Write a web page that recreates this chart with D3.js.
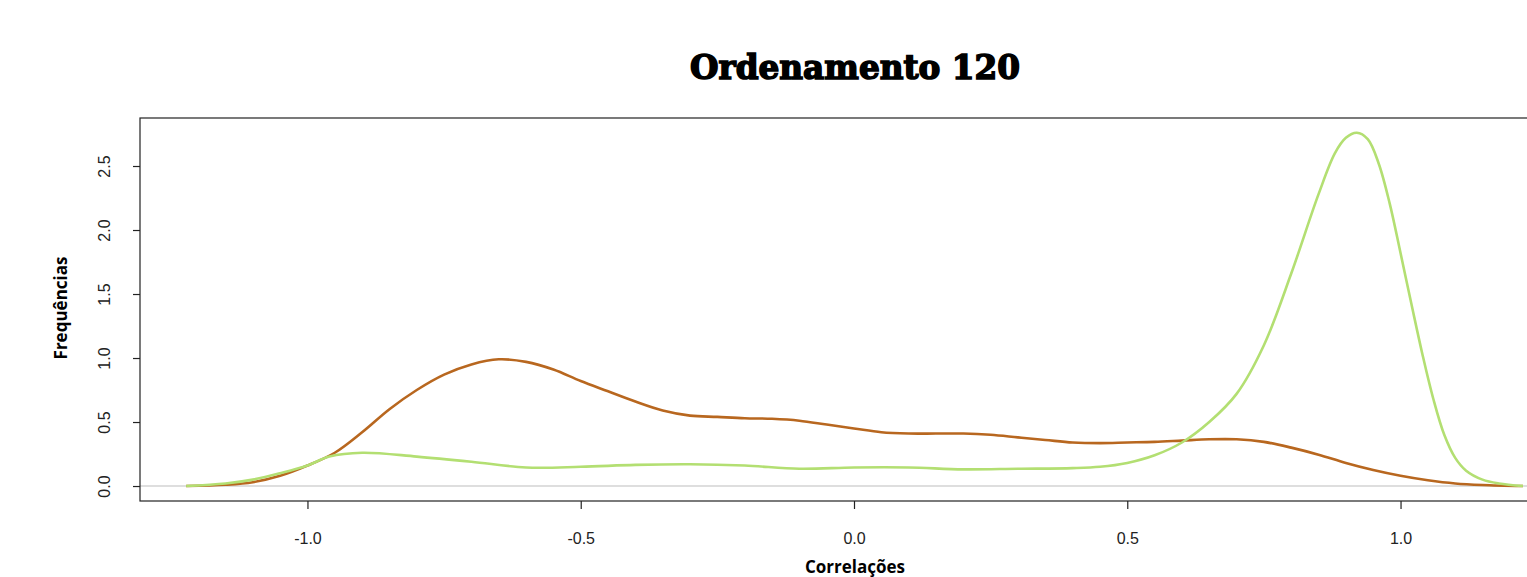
<!DOCTYPE html>
<html>
<head>
<meta charset="utf-8">
<script src="https://cdn.jsdelivr.net/npm/d3@7"></script>
<style>
  body { margin: 0; background: #fff; }
  svg { display: block; }
</style>
</head>
<body>
<div id="chart"></div>
<script>
// density estimates
let brownX = [-1.222, -1.15, -1.1, -1.05, -1.0, -0.95, -0.9, -0.85, -0.8, -0.75, -0.7, -0.65, -0.6, -0.55, -0.5, -0.45, -0.4, -0.35, -0.3, -0.25, -0.2, -0.15, -0.1, -0.05, 0.0, 0.05, 0.1, 0.15, 0.2, 0.25, 0.3, 0.35, 0.4, 0.45, 0.5, 0.55, 0.6, 0.65, 0.7, 0.75, 0.8, 0.85, 0.9, 0.95, 1.0, 1.05, 1.1, 1.15, 1.224];
let brownY = [0, 0.01, 0.03, 0.08, 0.16, 0.26, 0.42, 0.60, 0.75, 0.87, 0.95, 0.99, 0.97, 0.91, 0.82, 0.74, 0.66, 0.59, 0.55, 0.54, 0.53, 0.525, 0.51, 0.48, 0.45, 0.42, 0.41, 0.41, 0.41, 0.40, 0.38, 0.36, 0.34, 0.335, 0.34, 0.345, 0.355, 0.365, 0.365, 0.345, 0.30, 0.245, 0.18, 0.125, 0.08, 0.045, 0.02, 0.008, 0];

let greenX = [-1.222, -1.15, -1.1, -1.05, -1.0, -0.96, -0.9, -0.8, -0.7, -0.6, -0.5, -0.4, -0.3, -0.2, -0.1, 0.0, 0.1, 0.2, 0.3, 0.4, 0.45, 0.5, 0.55, 0.6, 0.65, 0.7, 0.75, 0.8, 0.85, 0.88, 0.9, 0.92, 0.94, 0.96, 0.98, 1.0, 1.02, 1.04, 1.06, 1.08, 1.1, 1.12, 1.15, 1.18, 1.224];
let greenY = [0, 0.02, 0.05, 0.10, 0.16, 0.23, 0.26, 0.23, 0.19, 0.145, 0.15, 0.165, 0.17, 0.16, 0.135, 0.145, 0.145, 0.13, 0.135, 0.14, 0.15, 0.18, 0.24, 0.34, 0.50, 0.72, 1.10, 1.66, 2.28, 2.60, 2.72, 2.76, 2.71, 2.52, 2.21, 1.82, 1.42, 1.03, 0.68, 0.40, 0.22, 0.12, 0.05, 0.02, 0];

let xTicks = [-1.0, -0.5, 0.0, 0.5, 1.0];
let yTicks = [0.0, 0.5, 1.0, 1.5, 2.0, 2.5];

let width = 1527, height = 577;
let box = { left: 140, right: 1568, top: 118, bottom: 501 };

let svg = d3.select("#chart").append("svg")
  .attr("width", width)
  .attr("height", height);

let xScale = d3.scaleLinear().domain([-1.3064, 1.3064]).range([box.left, box.right]);
let yScale = d3.scaleLinear().domain([-0.117, 2.875]).range([box.bottom, box.top]);

// R style labels use a plain hyphen
let fmt = d => d.toFixed(1);

// gray zero line
svg.append("line")
  .attr("x1", box.left).attr("x2", box.right)
  .attr("y1", yScale(0)).attr("y2", yScale(0))
  .attr("stroke", "#bdbdbd").attr("stroke-width", 1.2);

let line = d3.line()
  .x(d => xScale(d[0]))
  .y(d => yScale(d[1]))
  .curve(d3.curveCatmullRom.alpha(0.5));

svg.append("path")
  .datum(d3.zip(brownX, brownY))
  .attr("d", line)
  .attr("fill", "none")
  .attr("stroke", "#b8671f")
  .attr("stroke-width", 2.6);

svg.append("path")
  .datum(d3.zip(greenX, greenY))
  .attr("d", line)
  .attr("fill", "none")
  .attr("stroke", "#b3df72")
  .attr("stroke-width", 2.6);

// plot box
svg.append("rect")
  .attr("x", box.left).attr("y", box.top)
  .attr("width", box.right - box.left).attr("height", box.bottom - box.top)
  .attr("fill", "none").attr("stroke", "#222").attr("stroke-width", 1.2);

// axes
let xAxis = svg.append("g")
  .attr("transform", "translate(0," + box.bottom + ")")
  .call(d3.axisBottom(xScale).tickValues(xTicks).tickFormat(fmt).tickSize(8).tickPadding(24));
xAxis.select(".domain").remove();
xAxis.selectAll("line").attr("stroke", "#222").attr("stroke-width", 1.2);
xAxis.selectAll("text")
  .style("font-family", "'Liberation Sans', Arial, sans-serif")
  .style("font-size", "16px")
  .style("fill", "#222");

let yAxis = svg.append("g")
  .attr("transform", "translate(" + box.left + ",0)")
  .call(d3.axisLeft(yScale).tickValues(yTicks).tickFormat(fmt).tickSize(7));
yAxis.select(".domain").remove();
yAxis.selectAll("line").attr("stroke", "#222").attr("stroke-width", 1.2);
yAxis.selectAll("text")
  .attr("x", 0).attr("dy", 0)
  .attr("text-anchor", "middle")
  .attr("transform", "translate(-30,0) rotate(-90)")
  .style("font-family", "'Liberation Sans', Arial, sans-serif")
  .style("font-size", "16px")
  .style("fill", "#222");

// title
svg.append("text")
  .attr("x", 855)
  .attr("y", 79)
  .attr("text-anchor", "middle")
  .attr("textLength", 330)
  .attr("lengthAdjust", "spacingAndGlyphs")
  .style("font-family", "'DejaVu Serif', 'Liberation Serif', serif")
  .style("font-weight", "bold")
  .style("font-size", "34px")
  .style("stroke", "#000")
  .style("stroke-width", 1.6)
  .text("Ordenamento 120");

// axis labels
svg.append("text")
  .attr("transform", "translate(67,308) rotate(-90)")
  .attr("text-anchor", "middle")
  .style("font-family", "'Open Sans', 'Liberation Sans', sans-serif")
  .style("font-weight", "bold")
  .style("font-size", "17px")
  .text("Frequências");

svg.append("text")
  .attr("x", 855)
  .attr("y", 573)
  .attr("text-anchor", "middle")
  .style("font-family", "'Open Sans', 'Liberation Sans', sans-serif")
  .style("font-weight", "bold")
  .style("font-size", "17px")
  .text("Correlações");
</script>
</body>
</html>
